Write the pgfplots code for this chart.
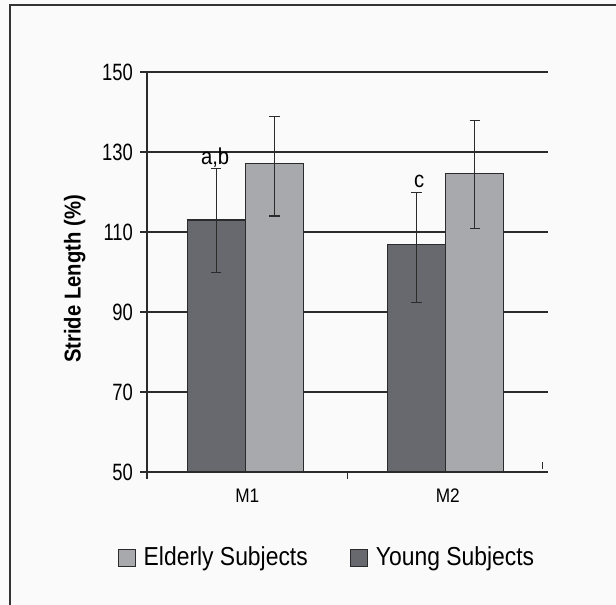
\documentclass[border=0pt]{standalone}
\usepackage{fontspec}
\setmainfont{Liberation Sans}[FakeStretch=0.88]
\newfontfamily\tickfont{Liberation Sans}[FakeStretch=0.78]
\usepackage{pgfplots}
\usepackage{pgfplotstable}
\pgfplotsset{compat=1.18}

\definecolor{young}{HTML}{68696E}
\definecolor{elderly}{HTML}{A8A9AD}
\definecolor{edge}{HTML}{2B2B2B}
\definecolor{bg}{HTML}{FAFAFA}

% x: 0 = M1, 1 = M2; ep/em = upper/lower error
\pgfplotstableread{
x y ep em
0 113.0 12.8 13.1
1 106.9 13.0 14.6
}\young
\pgfplotstableread{
x y ep em
0 127.2 11.7 13.2
1 124.7 13.2 13.9
}\elderly

\pgfplotsset{
  boxlegend/.style={legend image code/.code={%
    \draw[##1, line width=0.6pt] (0pt,-4.25pt) rectangle (8.5pt,4.25pt);
    \path (10.5pt,0pt);}},
  errs/.style={error bars/.cd, y dir=both, y explicit,
    error bar style={line width=0.6pt, draw=edge},
    error mark options={line width=0.6pt, draw=edge, mark size=2.6pt, rotate=90}},
}

\begin{document}
\begin{tikzpicture}
\path[use as bounding box, fill=bg] (-73.5pt,-66.5pt) rectangle (234.5pt,236pt);
\draw[line width=0.9pt, draw=black!80] (234.5pt,233.5pt) -- (-68.5pt,233.5pt) -- (-68.5pt,-66.5pt);
\begin{axis}[
  scale only axis, width=200.5pt, height=200pt,
  xmin=-0.5, xmax=1.5, ymin=50, ymax=150,
  ybar=0pt, bar width=0.289,
  axis x line*=bottom, axis y line*=left,
  axis line style={line width=0.6pt, draw=edge},
  tick align=outside, major tick length=3.5pt,
  tick style={line width=0.6pt, draw=edge},
  ytick={50,70,...,150},
  ymajorgrids, grid style={line width=0.6pt, draw=edge},
  xtick={-0.5,0.5}, xticklabels={},
  extra x ticks={0,1}, extra x tick labels={M1,M2},
  extra x tick style={major tick length=0pt, grid=none},
  xticklabel style={yshift=-5pt, font=\fontsize{9.8}{11}\selectfont},
  yticklabel style={font=\tickfont\fontsize{11.8}{13}\selectfont},
  /pgf/number format/assume math mode=true,
  ylabel={Stride Length (\%)},
  ylabel style={at={(axis description cs:-0.18,0.4825)}, anchor=center,
    font=\fontsize{11.5}{13}\selectfont\bfseries},
  legend style={draw=none, fill=none, at={(axis description cs:0.451,-0.215)},
    anchor=center, legend columns=2, font=\fontsize{13}{15}\selectfont,
    /tikz/every even column/.append style={column sep=19pt}},
  legend cell align=left,
]
\addplot[fill=elderly, draw=edge, line width=0.6pt, bar shift=0.135, boxlegend, errs]
  table[x=x, y=y, y error plus=ep, y error minus=em] {\elderly};
\addplot[fill=young, draw=edge, line width=0.6pt, bar shift=-0.155, boxlegend, errs]
  table[x=x, y=y, y error plus=ep, y error minus=em] {\young};
\legend{Elderly Subjects, Young Subjects}
\node[anchor=base, inner sep=0pt, font=\fontsize{11.5}{13}\selectfont] at (axis cs:-0.16,126.9) {a,b};
\node[anchor=base, inner sep=0pt, font=\fontsize{11.5}{13}\selectfont] at (axis cs:0.857,121.1) {c};
\draw[line width=0.5pt, draw=edge] (axis cs:1.475,50.8) -- (axis cs:1.475,52.6);
\end{axis}
\end{tikzpicture}
\end{document}
